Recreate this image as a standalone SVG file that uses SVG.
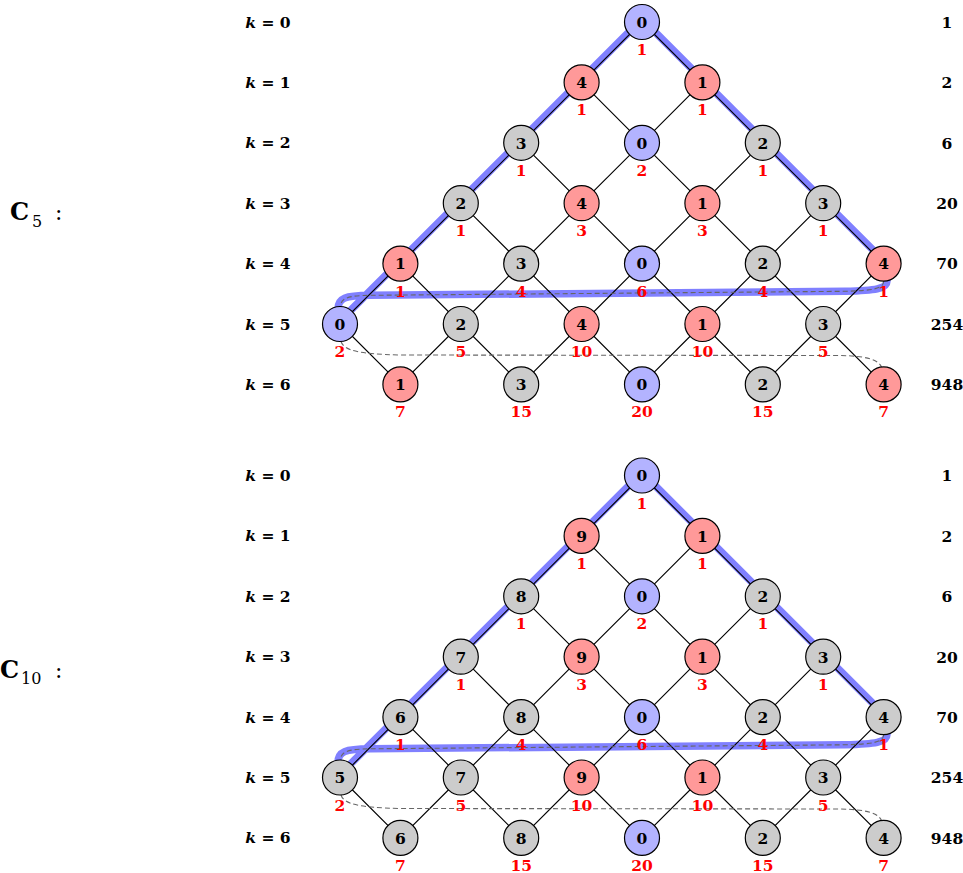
<svg xmlns="http://www.w3.org/2000/svg" width="963" height="873" viewBox="0 0 963 873">
<style>
.bg{fill:#ffffff}
.node circle{stroke:#000;stroke-width:1.2}
.blue circle{fill:#b3b3ff}
.red circle{fill:#ff9999}
.gray circle{fill:#cccccc}
.node text{font-family:"DejaVu Serif","Liberation Serif",serif;font-weight:bold;font-size:15.5px;text-anchor:middle}
.node text.cnt{fill:#ff0000}
.edges path{fill:none;stroke:#000;stroke-width:1.15}
.band{fill:none;stroke:#8080ff;stroke-width:7.5;stroke-linejoin:round;stroke-linecap:round}
.dash{fill:none;stroke:#666;stroke-width:1.1;stroke-dasharray:5 3}
.klab{font-family:"DejaVu Serif","Liberation Serif",serif;font-weight:bold;font-size:15.5px;text-anchor:middle}
.num{font-family:"DejaVu Serif","Liberation Serif",serif;font-weight:bold;font-size:15.5px;text-anchor:middle}
.big{font-family:"DejaVu Serif","Liberation Serif",serif;font-weight:bold;font-size:24px}
.sub{font-family:"DejaVu Serif","Liberation Serif",serif;font-size:16px}
.colon{font-family:"DejaVu Serif","Liberation Serif",serif;font-size:22px}
</style>
<rect class="bg" x="0" y="0" width="963" height="873"/>
<defs>
<g id="klabels">
<text class="klab" x="268" y="27.5"><tspan font-style="italic">k</tspan> = 0</text>
<text class="klab" x="268" y="87.9"><tspan font-style="italic">k</tspan> = 1</text>
<text class="klab" x="268" y="148.3"><tspan font-style="italic">k</tspan> = 2</text>
<text class="klab" x="268" y="208.7"><tspan font-style="italic">k</tspan> = 3</text>
<text class="klab" x="268" y="269.1"><tspan font-style="italic">k</tspan> = 4</text>
<text class="klab" x="268" y="329.5"><tspan font-style="italic">k</tspan> = 5</text>
<text class="klab" x="268" y="389.9"><tspan font-style="italic">k</tspan> = 6</text>
<text class="num" x="947" y="27.8">1</text>
<text class="num" x="947" y="88.2">2</text>
<text class="num" x="947" y="148.6">6</text>
<text class="num" x="947" y="209">20</text>
<text class="num" x="947" y="269.4">70</text>
<text class="num" x="947" y="329.8">254</text>
<text class="num" x="947" y="390.2">948</text>
</g>
<g id="edgeset" class="edges">
<path d="M642,22L581.6,82.4M642,22L702.4,82.4
M581.6,82.4L521.2,142.8M581.6,82.4L642,142.8M702.4,82.4L642,142.8M702.4,82.4L762.8,142.8
M521.2,142.8L460.8,203.2M521.2,142.8L581.6,203.2M642,142.8L581.6,203.2M642,142.8L702.4,203.2M762.8,142.8L702.4,203.2M762.8,142.8L823.2,203.2
M460.8,203.2L400.4,263.6M460.8,203.2L521.2,263.6M581.6,203.2L521.2,263.6M581.6,203.2L642,263.6M702.4,203.2L642,263.6M702.4,203.2L762.8,263.6M823.2,203.2L762.8,263.6M823.2,203.2L883.6,263.6
M400.4,263.6L340,324M400.4,263.6L460.8,324M521.2,263.6L460.8,324M521.2,263.6L581.6,324M642,263.6L581.6,324M642,263.6L702.4,324M762.8,263.6L702.4,324M762.8,263.6L823.2,324M883.6,263.6L823.2,324
M340,324L400.4,384.4M460.8,324L400.4,384.4M460.8,324L521.2,384.4M581.6,324L521.2,384.4M581.6,324L642,384.4M702.4,324L642,384.4M702.4,324L762.8,384.4M823.2,324L762.8,384.4M823.2,324L883.6,384.4"/>
</g>
<path id="bandpath" class="band" d="M885.1,262.1 L887,281 C887,289 875,290.5 845,291.3 L370,295.3 C345,295.6 338,298 338,309 L338.5,322.5 L640.5,20.5 L643.5,20.5 Z"/>
<path id="dash1" class="dash" d="M883.6,281.2 C884,289 872,290.5 845,291.3 L370,295.3 C348,295.6 341,298 340.5,306.5"/>
<path id="dash2" class="dash" d="M341,341.5 C344,351 360,354 400,355 L840,355.5 C865,356 878,359 881.5,367"/>
</defs>

<!-- ===== C5 ===== -->
<g id="c5">
<text class="big" x="10" y="220">C</text>
<text class="sub" x="32" y="227">5</text>
<text class="colon" x="55" y="220">:</text>
<use href="#klabels"/>
<use href="#bandpath"/>
<g id="c5-connectors">
<use href="#edgeset"/>
<use href="#dash1"/>
<use href="#dash2"/>
</g>
<g id="c5-n0-0" class="node blue"><circle cx="642" cy="22" r="17.5"/><text x="642" y="27.8">0</text><text class="cnt" x="642" y="55">1</text></g>
<g id="c5-n1-0" class="node red"><circle cx="581.6" cy="82.4" r="17.5"/><text x="581.6" y="88.2">4</text><text class="cnt" x="581.6" y="115.4">1</text></g>
<g id="c5-n1-1" class="node red"><circle cx="702.4" cy="82.4" r="17.5"/><text x="702.4" y="88.2">1</text><text class="cnt" x="702.4" y="115.4">1</text></g>
<g id="c5-n2-0" class="node gray"><circle cx="521.2" cy="142.8" r="17.5"/><text x="521.2" y="148.6">3</text><text class="cnt" x="521.2" y="175.8">1</text></g>
<g id="c5-n2-1" class="node blue"><circle cx="642" cy="142.8" r="17.5"/><text x="642" y="148.6">0</text><text class="cnt" x="642" y="175.8">2</text></g>
<g id="c5-n2-2" class="node gray"><circle cx="762.8" cy="142.8" r="17.5"/><text x="762.8" y="148.6">2</text><text class="cnt" x="762.8" y="175.8">1</text></g>
<g id="c5-n3-0" class="node gray"><circle cx="460.8" cy="203.2" r="17.5"/><text x="460.8" y="209">2</text><text class="cnt" x="460.8" y="236.2">1</text></g>
<g id="c5-n3-1" class="node red"><circle cx="581.6" cy="203.2" r="17.5"/><text x="581.6" y="209">4</text><text class="cnt" x="581.6" y="236.2">3</text></g>
<g id="c5-n3-2" class="node red"><circle cx="702.4" cy="203.2" r="17.5"/><text x="702.4" y="209">1</text><text class="cnt" x="702.4" y="236.2">3</text></g>
<g id="c5-n3-3" class="node gray"><circle cx="823.2" cy="203.2" r="17.5"/><text x="823.2" y="209">3</text><text class="cnt" x="823.2" y="236.2">1</text></g>
<g id="c5-n4-0" class="node red"><circle cx="400.4" cy="263.6" r="17.5"/><text x="400.4" y="269.4">1</text><text class="cnt" x="400.4" y="296.6">1</text></g>
<g id="c5-n4-1" class="node gray"><circle cx="521.2" cy="263.6" r="17.5"/><text x="521.2" y="269.4">3</text><text class="cnt" x="521.2" y="296.6">4</text></g>
<g id="c5-n4-2" class="node blue"><circle cx="642" cy="263.6" r="17.5"/><text x="642" y="269.4">0</text><text class="cnt" x="642" y="296.6">6</text></g>
<g id="c5-n4-3" class="node gray"><circle cx="762.8" cy="263.6" r="17.5"/><text x="762.8" y="269.4">2</text><text class="cnt" x="762.8" y="296.6">4</text></g>
<g id="c5-n4-4" class="node red"><circle cx="883.6" cy="263.6" r="17.5"/><text x="883.6" y="269.4">4</text><text class="cnt" x="883.6" y="296.6">1</text></g>
<g id="c5-n5-0" class="node blue"><circle cx="340" cy="324" r="17.5"/><text x="340" y="329.8">0</text><text class="cnt" x="340" y="357">2</text></g>
<g id="c5-n5-1" class="node gray"><circle cx="460.8" cy="324" r="17.5"/><text x="460.8" y="329.8">2</text><text class="cnt" x="460.8" y="357">5</text></g>
<g id="c5-n5-2" class="node red"><circle cx="581.6" cy="324" r="17.5"/><text x="581.6" y="329.8">4</text><text class="cnt" x="581.6" y="357">10</text></g>
<g id="c5-n5-3" class="node red"><circle cx="702.4" cy="324" r="17.5"/><text x="702.4" y="329.8">1</text><text class="cnt" x="702.4" y="357">10</text></g>
<g id="c5-n5-4" class="node gray"><circle cx="823.2" cy="324" r="17.5"/><text x="823.2" y="329.8">3</text><text class="cnt" x="823.2" y="357">5</text></g>
<g id="c5-n6-0" class="node red"><circle cx="400.4" cy="384.4" r="17.5"/><text x="400.4" y="390.2">1</text><text class="cnt" x="400.4" y="417.4">7</text></g>
<g id="c5-n6-1" class="node gray"><circle cx="521.2" cy="384.4" r="17.5"/><text x="521.2" y="390.2">3</text><text class="cnt" x="521.2" y="417.4">15</text></g>
<g id="c5-n6-2" class="node blue"><circle cx="642" cy="384.4" r="17.5"/><text x="642" y="390.2">0</text><text class="cnt" x="642" y="417.4">20</text></g>
<g id="c5-n6-3" class="node gray"><circle cx="762.8" cy="384.4" r="17.5"/><text x="762.8" y="390.2">2</text><text class="cnt" x="762.8" y="417.4">15</text></g>
<g id="c5-n6-4" class="node red"><circle cx="883.6" cy="384.4" r="17.5"/><text x="883.6" y="390.2">4</text><text class="cnt" x="883.6" y="417.4">7</text></g>
</g>

<!-- ===== C10 ===== -->
<text class="big" x="0" y="678">C</text>
<text class="sub" x="21" y="684">10</text>
<text class="colon" x="55" y="678">:</text>
<g id="c10" transform="translate(0,453.5)">
<use href="#klabels"/>
<use href="#bandpath"/>
<g id="c10-connectors">
<use href="#edgeset"/>
<use href="#dash1"/>
<use href="#dash2"/>
</g>
<g id="c10-n0-0" class="node blue"><circle cx="642" cy="22" r="17.5"/><text x="642" y="27.8">0</text><text class="cnt" x="642" y="55">1</text></g>
<g id="c10-n1-0" class="node red"><circle cx="581.6" cy="82.4" r="17.5"/><text x="581.6" y="88.2">9</text><text class="cnt" x="581.6" y="115.4">1</text></g>
<g id="c10-n1-1" class="node red"><circle cx="702.4" cy="82.4" r="17.5"/><text x="702.4" y="88.2">1</text><text class="cnt" x="702.4" y="115.4">1</text></g>
<g id="c10-n2-0" class="node gray"><circle cx="521.2" cy="142.8" r="17.5"/><text x="521.2" y="148.6">8</text><text class="cnt" x="521.2" y="175.8">1</text></g>
<g id="c10-n2-1" class="node blue"><circle cx="642" cy="142.8" r="17.5"/><text x="642" y="148.6">0</text><text class="cnt" x="642" y="175.8">2</text></g>
<g id="c10-n2-2" class="node gray"><circle cx="762.8" cy="142.8" r="17.5"/><text x="762.8" y="148.6">2</text><text class="cnt" x="762.8" y="175.8">1</text></g>
<g id="c10-n3-0" class="node gray"><circle cx="460.8" cy="203.2" r="17.5"/><text x="460.8" y="209">7</text><text class="cnt" x="460.8" y="236.2">1</text></g>
<g id="c10-n3-1" class="node red"><circle cx="581.6" cy="203.2" r="17.5"/><text x="581.6" y="209">9</text><text class="cnt" x="581.6" y="236.2">3</text></g>
<g id="c10-n3-2" class="node red"><circle cx="702.4" cy="203.2" r="17.5"/><text x="702.4" y="209">1</text><text class="cnt" x="702.4" y="236.2">3</text></g>
<g id="c10-n3-3" class="node gray"><circle cx="823.2" cy="203.2" r="17.5"/><text x="823.2" y="209">3</text><text class="cnt" x="823.2" y="236.2">1</text></g>
<g id="c10-n4-0" class="node gray"><circle cx="400.4" cy="263.6" r="17.5"/><text x="400.4" y="269.4">6</text><text class="cnt" x="400.4" y="296.6">1</text></g>
<g id="c10-n4-1" class="node gray"><circle cx="521.2" cy="263.6" r="17.5"/><text x="521.2" y="269.4">8</text><text class="cnt" x="521.2" y="296.6">4</text></g>
<g id="c10-n4-2" class="node blue"><circle cx="642" cy="263.6" r="17.5"/><text x="642" y="269.4">0</text><text class="cnt" x="642" y="296.6">6</text></g>
<g id="c10-n4-3" class="node gray"><circle cx="762.8" cy="263.6" r="17.5"/><text x="762.8" y="269.4">2</text><text class="cnt" x="762.8" y="296.6">4</text></g>
<g id="c10-n4-4" class="node gray"><circle cx="883.6" cy="263.6" r="17.5"/><text x="883.6" y="269.4">4</text><text class="cnt" x="883.6" y="296.6">1</text></g>
<g id="c10-n5-0" class="node gray"><circle cx="340" cy="324" r="17.5"/><text x="340" y="329.8">5</text><text class="cnt" x="340" y="357">2</text></g>
<g id="c10-n5-1" class="node gray"><circle cx="460.8" cy="324" r="17.5"/><text x="460.8" y="329.8">7</text><text class="cnt" x="460.8" y="357">5</text></g>
<g id="c10-n5-2" class="node red"><circle cx="581.6" cy="324" r="17.5"/><text x="581.6" y="329.8">9</text><text class="cnt" x="581.6" y="357">10</text></g>
<g id="c10-n5-3" class="node red"><circle cx="702.4" cy="324" r="17.5"/><text x="702.4" y="329.8">1</text><text class="cnt" x="702.4" y="357">10</text></g>
<g id="c10-n5-4" class="node gray"><circle cx="823.2" cy="324" r="17.5"/><text x="823.2" y="329.8">3</text><text class="cnt" x="823.2" y="357">5</text></g>
<g id="c10-n6-0" class="node gray"><circle cx="400.4" cy="384.4" r="17.5"/><text x="400.4" y="390.2">6</text><text class="cnt" x="400.4" y="417.4">7</text></g>
<g id="c10-n6-1" class="node gray"><circle cx="521.2" cy="384.4" r="17.5"/><text x="521.2" y="390.2">8</text><text class="cnt" x="521.2" y="417.4">15</text></g>
<g id="c10-n6-2" class="node blue"><circle cx="642" cy="384.4" r="17.5"/><text x="642" y="390.2">0</text><text class="cnt" x="642" y="417.4">20</text></g>
<g id="c10-n6-3" class="node gray"><circle cx="762.8" cy="384.4" r="17.5"/><text x="762.8" y="390.2">2</text><text class="cnt" x="762.8" y="417.4">15</text></g>
<g id="c10-n6-4" class="node gray"><circle cx="883.6" cy="384.4" r="17.5"/><text x="883.6" y="390.2">4</text><text class="cnt" x="883.6" y="417.4">7</text></g>
</g>
</svg>
